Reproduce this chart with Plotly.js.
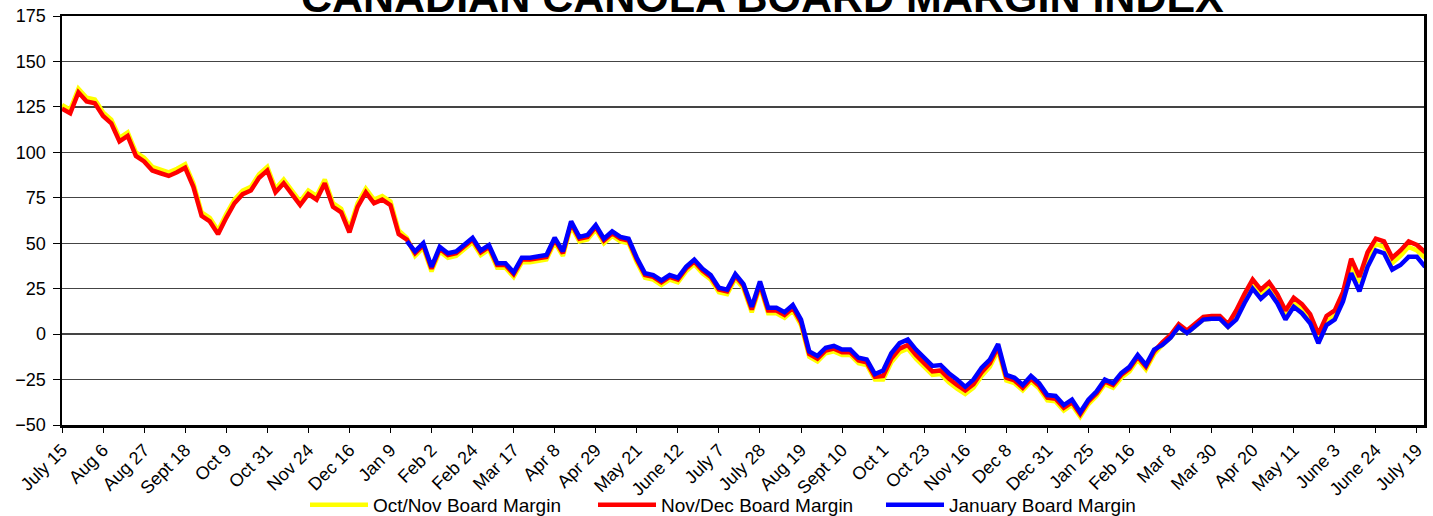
<!DOCTYPE html>
<html>
<head>
<meta charset="utf-8">
<script src="https://cdn.plot.ly/plotly-3.0.1.min.js"></script>
<style>html,body{margin:0;padding:0;background:#fff;}#chart{width:1433px;height:516px;}</style>
</head>
<body>
<div id="chart"></div>
<script>
// trading-day sampling step (values read every 3 trading days)
const dayStep = 3;
const tickEvery = 15;

const tickLabels = ["July 15","Aug 6","Aug 27","Sept 18","Oct 9","Oct 31","Nov 24","Dec 16","Jan 9","Feb 2",
  "Feb 24","Mar 17","Apr 8","Apr 29","May 21","June 12","July 7","July 28","Aug 19","Sept 10",
  "Oct 1","Oct 23","Nov 16","Dec 8","Dec 31","Jan 25","Feb 16","Mar 8","Mar 30","Apr 20",
  "May 11","June 3","June 24","July 19"];

const seriesNames = ["Oct/Nov Board Margin", "Nov/Dec Board Margin", "January Board Margin"];

// Oct/Nov board margin (starts day 0)
const octNov = [126,123.5,135,130,129,122,118,108,111,100,97,92,90.5,89,91,93.5,83,67,64,57,
  66,74,79,81,88,92,80,85,79,73,79,76,85,72,69,58,72,80,74,76,73,57,
  53,43,47.5,34.5,45.5,42,43,46.5,50.5,43.5,46.5,36.5,36.5,31.5,39.5,39.5,40,41,50.5,43,
  59.5,51,52,57.5,50,54,51,50,39.5,31,30,27,30,28.5,34.5,38.5,33.5,30,23,22,
  30.5,25,12,26,11.5,11.5,9,13,5,-12.5,-15,-10.5,-9.5,-11.5,-11.5,-16,-17,-25,-25,-15.5,
  -10,-8,-13.5,-18,-22.5,-22,-26.5,-30,-33,-29.5,-23,-18,-9,-25.5,-27,-31,-26,-30,-36.5,-37,
  -42,-39,-45.5,-38.5,-34,-27.5,-29.5,-24,-20.5,-14,-19.5,-11,-6,-2,4,0.5,4,8,8.5,8.5,
  4,10,19,27,21.5,25.5,19,10,17,13.5,8,-3,7,10,20,38.5,28.5,42,49.5,48,
  39,43,48,46,42];

// Nov/Dec board margin (starts day 0)
const novDec = [124,121.5,133,128,127,120,116,106,109,98,95,90,88.5,87,89,91.5,81,65,62,55,
  64,72,77,79,86,90,78,83,77,71,77,74,83,70,67,56,70,78,72,74,71,55,
  52,44.5,49,36,47,43.5,44.5,48,52,45,48,38,38,33,41,41,41.5,42.5,52,44.5,
  61,52.5,53.5,59,51.5,55.5,52.5,51.5,41,32.5,31.5,28.5,31.5,30,36,40,35,31.5,24.5,23.5,
  32,26.5,13.5,27.5,13,13,10.5,14.5,6.5,-11,-13.5,-9,-8,-10,-10,-14.5,-15.5,-23.5,-23,-13.5,
  -8,-6,-11.5,-16,-20.5,-20,-24.5,-28,-31,-27.5,-21,-16,-7,-24,-25.5,-29.5,-24.5,-28.5,-35,-35.5,
  -40.5,-37.5,-44,-37,-32.5,-26,-28,-22.5,-19,-12.5,-18,-9.5,-4.5,-0.5,5.5,2,5.5,9.5,10,10,
  5.5,13,22,30,24.5,28.5,22,13,20,16.5,11,0,10,13,23,41.5,31.5,45,52.5,51,
  42,46,51,49,45];

// January board margin (starts day 126)
const janStart = 126;
const january = [51,45.5,50,37,48,44.5,45.5,49,53,46,49,39,39,34,42,42,42.5,43.5,53,45.5,
  62,53.5,54.5,60,52.5,56.5,53.5,52.5,42,33.5,32.5,29.5,32.5,31,37,41,36,32.5,25.5,24.5,
  33,27.5,15,29,14.5,14.5,12,16,8,-9.5,-12,-7.5,-6.5,-8.5,-8.5,-13,-14,-22,-20,-10.5,
  -5,-3,-8.5,-13,-17.5,-17,-21.5,-25,-29,-25,-18.5,-14,-5.5,-22.5,-24,-28,-23,-27,-33.5,-34,
  -39,-36,-43,-36,-31.5,-25,-27,-21.5,-18,-11.5,-17,-8.5,-6,-2,4,0.5,4,8,8.5,8.5,
  4,8,17,25,19.5,23.5,17,8,15,11.5,6,-5,5,8,18,33.5,23.5,37,46,44.5,
  35.5,38,42.5,42.5,37];

const colors = ["#FFFF00", "#FF0000", "#0000FF"];

function days(arr, start) { return arr.map((_, i) => start + i * dayStep); }

const traces = [
  {x: days(octNov, 0), y: octNov, name: seriesNames[0], mode: "lines", line: {color: colors[0], width: 4.5}},
  {x: days(novDec, 0), y: novDec, name: seriesNames[1], mode: "lines", line: {color: colors[1], width: 4.5}},
  {x: days(january, janStart), y: january, name: seriesNames[2], mode: "lines", line: {color: colors[2], width: 4.5}}
];

const tickVals = tickLabels.map((_, i) => i * tickEvery);
const FONT = "Liberation Sans, Arial, sans-serif";

const layout = {
  width: 1433, height: 516,
  margin: {l: 62, r: 9, t: 16, b: 91, pad: 0, autoexpand: false},
  paper_bgcolor: "#ffffff", plot_bgcolor: "#ffffff",
  showlegend: true,
  title: {text: "<b>CANADIAN CANOLA BOARD MARGIN INDEX</b>", font: {family: FONT, size: 43, color: "#000"},
          x: 0.532, xanchor: "center", y: 1 - 12/516, yanchor: "bottom", yref: "container", pad: {t: 0, b: 0, l: 0, r: 0},
          automargin: false},
  xaxis: {range: [0, 497.6], tickvals: tickVals, ticktext: tickLabels, tickangle: -45, automargin: false,
          ticks: "outside", ticklen: 5, tickcolor: "#000", tickwidth: 1,
          showgrid: false, zeroline: false, showline: true, linecolor: "#000", linewidth: 2.5, mirror: true,
          tickfont: {family: FONT, size: 18, color: "#000"}},
  yaxis: {range: [-50, 175], dtick: 25, tick0: 0, ticks: "outside", ticklen: 7, tickcolor: "#000", automargin: false,
          ticklabelstandoff: 3,
          showgrid: true, gridcolor: "#444", gridwidth: 1.3, zeroline: false,
          showline: true, linecolor: "#000", linewidth: 2.5, mirror: true,
          tickfont: {family: FONT, size: 18, color: "#000"}},
  legend: {orientation: "h", x: (305 - 62) / 1362, xanchor: "left", xref: "paper", y: 11/516, yanchor: "middle", yref: "container",
           font: {family: FONT, size: 19, color: "#000"}, bgcolor: "rgba(0,0,0,0)", itemwidth: 58,
           entrywidth: 215, entrywidthmode: "pixels", tracegroupgap: 0}
};

Plotly.newPlot("chart", traces, layout, {displayModeBar: false, staticPlot: true});
</script>
</body>
</html>
